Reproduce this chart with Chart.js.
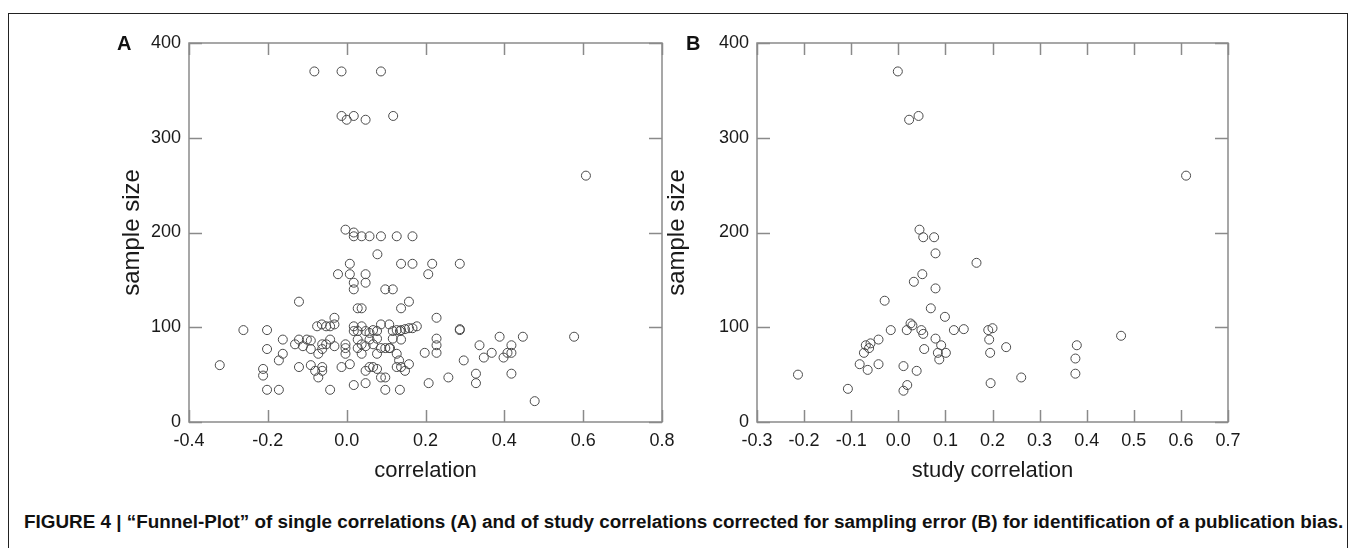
<!DOCTYPE html>
<html>
<head>
<meta charset="utf-8">
<script src="https://cdn.jsdelivr.net/npm/chart.js@4.4.0/dist/chart.umd.min.js"></script>
<style>
  body { margin: 0; width: 1355px; height: 548px; background: #fff; overflow: hidden; position: relative;
         font-family: "Liberation Sans", Arial, sans-serif; }
  .frame { position: absolute; left: 8px; top: 13px; width: 1338px; height: 560px; border: 1px solid #222; }
  canvas { position: absolute; top: 0; }
  #chartA { left: 0; }
  #chartB { left: 640px; }
  .tag { position: absolute; font-weight: bold; font-size: 20px; color: #111; line-height: 20px; }
  .caption { position: absolute; left: 24px; top: 511px; font-weight: bold; font-size: 18.5px; color: #111; white-space: nowrap; line-height: 22px; }
</style>
</head>
<body>
<div class="frame"></div>
<canvas id="chartA" width="690" height="500"></canvas>
<canvas id="chartB" width="640" height="500"></canvas>
<div class="tag" style="left:117px;top:33px">A</div>
<div class="tag" style="left:686px;top:33px">B</div>
<div class="caption" id="cap">FIGURE 4 | “Funnel-Plot” of single correlations (A) and of study correlations corrected for sampling error (B) for identification of a publication bias.</div>
<script>
// panel A: single correlations
const corrA = [
  -0.082, -0.013, 0.087, -0.013, 0.0, 0.018, 0.048, 0.118, 0.607,
  -0.003, 0.018, 0.018, 0.038, 0.058, 0.087, 0.127, 0.167,
  0.078, 0.008, 0.138, 0.167, 0.217, 0.287,
  -0.022, 0.008, 0.048, 0.207, 0.018, 0.048,
  0.018, 0.098, 0.117, 0.028, 0.038, 0.138, -0.121, 0.158, 0.228,
  -0.262, -0.202, -0.075, -0.063, -0.052, -0.042, -0.031, -0.031,
  0.018, 0.038, 0.067, 0.087, 0.108, 0.127,
  0.018, 0.028, 0.048, 0.058, 0.077, 0.117, 0.135,
  0.148, 0.158, 0.167, 0.178, 0.138, 0.287, 0.287,
  0.388, 0.447, 0.577,
  -0.162, -0.131, -0.121, -0.111, -0.101, -0.091, -0.042,
  -0.091, -0.062, -0.052, -0.062, -0.031,
  -0.003, -0.003, -0.003,
  0.028, 0.058, 0.077, 0.117, 0.038, 0.048, 0.067, 0.087,
  0.028, 0.038, 0.077, 0.098, 0.108, 0.127, 0.138,
  0.228, 0.228, 0.228, 0.198, 0.110, 0.133,
  0.337, 0.348, 0.368, 0.398, 0.408, 0.418, 0.418, 0.297,
  -0.322, -0.202, -0.212, -0.212, -0.202, -0.172, -0.162, -0.172,
  -0.121, -0.091, -0.080, -0.072, -0.072, -0.062, -0.062,
  -0.042, -0.013, 0.008, 0.018,
  0.048, 0.058, 0.067, 0.077, 0.127,
  0.087, 0.098, 0.048, 0.098, 0.135,
  0.138, 0.158, 0.148,
  0.208, 0.258, 0.328, 0.328, 0.418, 0.477
];
const sizeA = [
  370, 370, 370, 323, 319, 323, 319, 323, 260,
  203, 200, 196, 196, 196, 196, 196, 196,
  177, 167, 167, 167, 167, 167,
  156, 156, 156, 156, 147, 147,
  140, 140, 140, 120, 120, 120, 127, 127, 110,
  97, 97, 101, 103, 101, 101, 103, 110,
  101, 101, 97, 103, 103, 97,
  96, 96, 96, 94, 96, 96, 96,
  98, 99, 99, 101, 97, 97, 98,
  90, 90, 90,
  87, 82, 87, 80, 87, 86, 87,
  77, 77, 82, 82, 80,
  82, 78, 72,
  87, 87, 88, 88, 82, 80, 82, 78,
  78, 72, 72, 78, 78, 72, 87,
  88, 81, 73, 73, 78, 65,
  81, 68, 73, 68, 73, 73, 81, 65,
  60, 77, 56, 49, 34, 34, 72, 65,
  58, 60, 54, 47, 72, 58, 54,
  34, 58, 61, 39,
  54, 58, 58, 56, 58,
  47, 47, 41, 34, 34,
  58, 61, 54,
  41, 47, 51, 41, 51, 22
];

// panel B: study correlations
const corrB = [
  -0.001, 0.023, 0.043, 0.611,
  0.045, 0.053, 0.076, 0.079, 0.166, 0.051, 0.033, 0.079, -0.029, 0.069, 0.099,
  0.026, 0.030, -0.016, 0.018, 0.049, 0.053, 0.118, 0.139, 0.191, 0.200,
  0.193, 0.079, -0.042, -0.069, -0.059, -0.062, 0.091, 0.055, -0.073, 0.084, 0.101,
  0.087, 0.195, 0.229, -0.082, -0.042, -0.065, 0.011, 0.039, -0.213, 0.261,
  -0.107, 0.019, 0.011, 0.196, 0.379, 0.376, 0.376, 0.473
];
const sizeB = [
  370, 319, 323, 260,
  203, 195, 195, 178, 168, 156, 148, 141, 128, 120, 111,
  104, 102, 97, 97, 97, 93, 97, 98, 97, 99,
  87, 88, 87, 81, 83, 78, 81, 77, 73, 73, 73,
  66, 73, 79, 61, 61, 55, 59, 54, 50, 47,
  35, 39, 33, 41, 81, 67, 51, 91
];

const xTicksA = [-0.4, 0.8, 0.2];   // min, max, step
const xTicksB = [-0.3, 0.7, 0.1];
const yTicks = [0, 400, 100];

// stretch the caption to the width it has in the figure
(function () {
  const cap = document.getElementById('cap');
  const w = cap.getBoundingClientRect().width;
  cap.style.fontSize = (18.5 * 1320 / w).toFixed(2) + 'px';
})();

const frameTicks = {
  id: 'frameTicks',
  beforeDatasetsDraw(chart) {
    const { ctx, chartArea: a, scales: { x, y } } = chart;
    ctx.save();
    ctx.strokeStyle = '#8a8a8a';
    ctx.lineWidth = 1.5;
    ctx.strokeRect(a.left, a.top, a.right - a.left, a.bottom - a.top);
    ctx.beginPath();
    x.ticks.forEach(t => {
      const px = Math.round(x.getPixelForValue(t.value)) + 0.5;
      ctx.moveTo(px, a.bottom); ctx.lineTo(px, a.bottom - 12);
      ctx.moveTo(px, a.top); ctx.lineTo(px, a.top + 12);
    });
    y.ticks.forEach(t => {
      const py = Math.round(y.getPixelForValue(t.value)) + 0.5;
      ctx.moveTo(a.left, py); ctx.lineTo(a.left + 13, py);
      ctx.moveTo(a.right, py); ctx.lineTo(a.right - 13, py);
    });
    ctx.stroke();
    ctx.restore();
  }
};

function makePanel(id, xs, ys, xt, xTitle, axisW, titlePad, rightPad) {
  const pts = xs.map((v, i) => ({ x: v, y: ys[i] }));
  return new Chart(document.getElementById(id), {
    type: 'scatter',
    data: {
      datasets: [{
        data: pts,
        pointRadius: 4.5,
        pointHoverRadius: 4.5,
        pointBackgroundColor: 'rgba(0,0,0,0)',
        pointBorderColor: '#4a4a4a',
        pointBorderWidth: 1
      }]
    },
    options: {
      responsive: false,
      animation: false,
      devicePixelRatio: 1,
      layout: { padding: { left: 0, top: 43, right: rightPad, bottom: 8 } },
      plugins: { legend: { display: false }, tooltip: { enabled: false } },
      scales: {
        x: {
          type: 'linear',
          min: xt[0], max: xt[1],
          grid: { display: false, drawTicks: false },
          border: { display: false },
          afterFit(s) { s.height = 70; },
          ticks: {
            stepSize: xt[2],
            padding: 8,
            color: '#1a1a1a',
            font: { family: 'Liberation Sans', size: 18 },
            callback: v => (Math.abs(v) < 1e-9 ? '0.0' : Number(v).toFixed(1))
          },
          title: {
            display: true, text: xTitle, color: '#1a1a1a',
            font: { family: 'Liberation Sans', size: 22 },
            padding: { top: 0, bottom: 8 }
          }
        },
        y: {
          type: 'linear',
          min: yTicks[0], max: yTicks[1],
          grid: { display: false, drawTicks: false },
          border: { display: false },
          afterFit(s) { s.width = axisW; },
          ticks: {
            stepSize: yTicks[2],
            padding: 8,
            color: '#1a1a1a',
            font: { family: 'Liberation Sans', size: 18 }
          },
          title: {
            display: true, text: 'sample size', color: '#1a1a1a',
            font: { family: 'Liberation Sans', size: 24 },
            padding: { top: titlePad, bottom: 0 }
          }
        }
      }
    },
    plugins: [frameTicks]
  });
}

makePanel('chartA', corrA, sizeA, xTicksA, 'correlation', 189, 118, 28);
makePanel('chartB', corrB, sizeB, xTicksB, 'study correlation', 117, 23, 52);
</script>
</body>
</html>
